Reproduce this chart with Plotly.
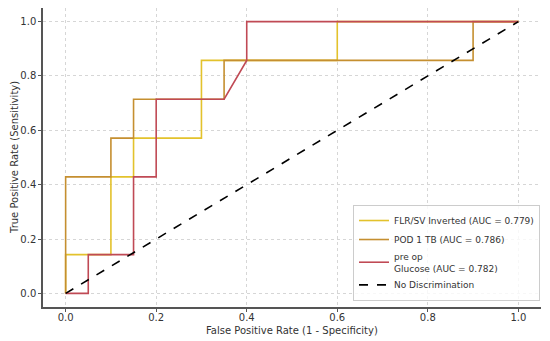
import plotly.graph_objects as go

# FLR/SV Inverted
flr_fpr = [0.0, 0.0, 0.1, 0.1, 0.15, 0.15, 0.3, 0.3, 0.6, 0.6, 1.0]
flr_tpr = [0.0, 1/7, 1/7, 3/7, 3/7, 4/7, 4/7, 6/7, 6/7, 1.0, 1.0]
# POD 1 TB
pod_fpr = [0.0, 0.0, 0.1, 0.1, 0.15, 0.15, 0.35, 0.35, 0.9, 0.9, 1.0]
pod_tpr = [0.0, 3/7, 3/7, 4/7, 4/7, 5/7, 5/7, 6/7, 6/7, 1.0, 1.0]
# pre op Glucose
glu_fpr = [0.0, 0.05, 0.05, 0.15, 0.15, 0.2, 0.2, 0.35, 0.4, 0.4, 1.0]
glu_tpr = [0.0, 0.0, 1/7, 1/7, 3/7, 3/7, 5/7, 5/7, 6/7, 1.0, 1.0]

diag = [0.0, 1.0]

names = ["FLR/SV Inverted (AUC = 0.779)", "POD 1 TB (AUC = 0.786)",
         "pre op<br>Glucose (AUC = 0.782)", "No Discrimination"]
x_ticks = [0.0, 0.2, 0.4, 0.6, 0.8, 1.0]
y_ticks = [0.0, 0.2, 0.4, 0.6, 0.8, 1.0]
x_title = "False Positive Rate (1 - Specificity)"
y_title = "True Positive Rate (Sensitivity)"

fig = go.Figure()
fig.add_trace(go.Scatter(x=flr_fpr, y=flr_tpr, mode="lines", name=names[0],
                         line=dict(color="#e3c22c", width=1.6)))
fig.add_trace(go.Scatter(x=pod_fpr, y=pod_tpr, mode="lines", name=names[1],
                         line=dict(color="#c58f30", width=1.6)))
fig.add_trace(go.Scatter(x=glu_fpr, y=glu_tpr, mode="lines", name=names[2],
                         line=dict(color="#c04a55", width=1.6)))
fig.add_trace(go.Scatter(x=diag, y=diag, mode="lines", name=names[3],
                         line=dict(color="black", width=1.6, dash="dash")))

axis_common = dict(
    showgrid=True, gridcolor="#d6d6d6", griddash="dot", gridwidth=1,
    zeroline=False, showline=True, linecolor="#555555", linewidth=1.5,
    ticks="outside", ticklen=3, tickcolor="#555555",
    tickfont=dict(family="DejaVu Sans", size=10, color="#333333"),
    tickformat=".1f", mirror=False, automargin=False,
)
fig.update_layout(
    width=550, height=341,
    margin=dict(l=43, r=9, t=8, b=34),
    paper_bgcolor="white", plot_bgcolor="white",
    font=dict(family="DejaVu Sans", size=10, color="#333333"),
    xaxis=dict(range=[-0.05, 1.05], tickvals=x_ticks, ticklabelstandoff=-3,
               **axis_common),
    yaxis=dict(range=[-0.05, 1.05], tickvals=y_ticks, **axis_common),
    legend=dict(x=0.998, y=0.02, xanchor="right", yanchor="bottom",
                bgcolor="rgba(255,255,255,0.8)", bordercolor="#cccccc", borderwidth=1,
                font=dict(family="DejaVu Sans", size=9, color="#333333"),
                tracegroupgap=0, itemwidth=30),
    showlegend=True,
    annotations=[
        dict(text=x_title, xref="paper", yref="paper", x=0.5, y=0,
             xanchor="center", yanchor="top", yshift=-16, showarrow=False,
             font=dict(family="DejaVu Sans", size=10, color="#333333")),
        dict(text=y_title, xref="paper", yref="paper", x=0, y=0.5,
             xanchor="right", yanchor="middle", xshift=-21, textangle=-90,
             showarrow=False,
             font=dict(family="DejaVu Sans", size=10, color="#333333")),
    ],
)
fig.write_html("out.html", config={"displayModeBar": False},
               post_script="document.body.style.margin='0';document.body.style.padding='0';")
